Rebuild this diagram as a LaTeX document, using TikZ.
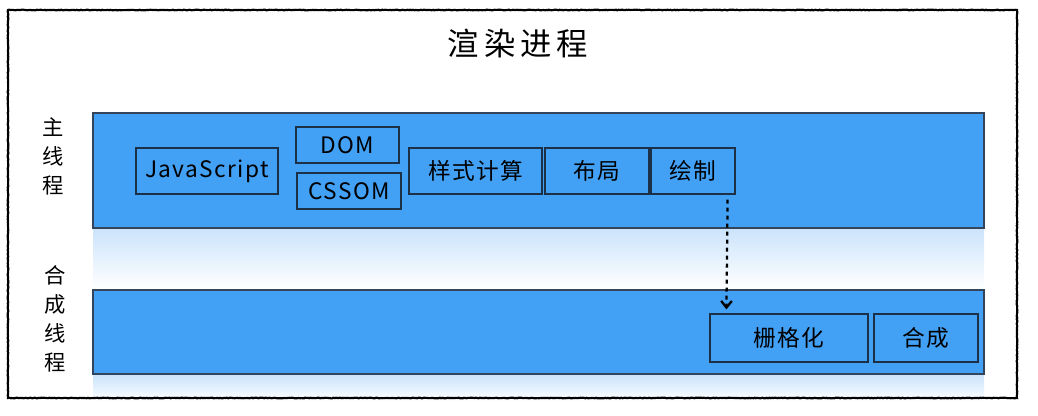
\documentclass[tikz,border=0pt]{standalone}
\usepackage{fontspec}
\setmainfont[LetterSpace=6]{Noto Sans CJK SC}
\newfontfamily\titlefont[LetterSpace=16]{Noto Sans CJK SC}
\usetikzlibrary{calc}
\usetikzlibrary{arrows.meta,decorations.pathmorphing}
\definecolor{bandblue}{RGB}{66,160,245}
\definecolor{bandline}{RGB}{52,68,90}
\definecolor{boxline}{RGB}{28,48,72}
\definecolor{shadeblue}{RGB}{204,228,251}

\begin{document}
\begin{tikzpicture}[x=0.75pt,y=-0.75pt,
  band/.style={draw=bandline,line width=0.8pt,fill=bandblue},
  glow/.style={top color=shadeblue,bottom color=white,draw=none},
  stage/.style={draw=boxline,line width=0.9pt,inner sep=0pt,font=\fontsize{17}{20}\selectfont},
  lane/.style={draw=none,fill=none,align=center,font=\fontsize{16}{21.75}\selectfont},
  rough/.style={line width=1.6pt,decorate,decoration={random steps,segment length=1pt,amplitude=0.25pt}},
  flow/.style={line width=1.7pt,dash pattern=on 3pt off 3pt,-{Straight Barb[length=5pt,width=8pt]}}]
  \useasboundingbox (0,0) rectangle (1038,415);

  % Title
  \node[draw=none,fill=none] (title) at (518,44) {\titlefont\fontsize{23.5}{28}\selectfont 渲染进程};

  % Bands and their reflections
  \fill[glow] (93,229) rectangle (984,289);
  \fill[glow] (93,375) rectangle (984,402);
  \draw[band] (93,113) rectangle (984,228);
  \draw[band] (93,290) rectangle (984,374);

  % Frame
  \draw[rough] (8,10) rectangle (1017,398);

  % Lane labels
  \node[lane] (mainlbl) at (53,156) {主\\线\\程};
  \node[lane] (complbl) at (55,319) {合\\成\\线\\程};

  % Main thread stages
  \node[stage,minimum width=106.5pt,minimum height=34.5pt] (js) at (207,171) {JavaScript};
  \node[stage,minimum width=77.25pt,minimum height=27pt] (dom) at (347.5,145) {DOM};
  \node[stage,minimum width=78pt,minimum height=27pt] (cssom) at (349,191) {CSSOM};
  \node[stage,minimum width=99.75pt,minimum height=34.5pt] (style) at (475.5,171) {样式计算};
  \node[stage,minimum width=78pt,minimum height=34.5pt] (layout) at (597,171) {布局};
  \node[stage,minimum width=63pt,minimum height=34.5pt] (paint) at (693,171) {绘制};

  % Compositor thread stages
  \node[stage,minimum width=118.5pt,minimum height=36pt] (raster) at (789,338) {栅格化};
  \node[stage,minimum width=78pt,minimum height=36pt] (comp) at (926,338) {合成};

  % Hand-over
  \draw[flow] ($(paint.south east)+(-8,5)$) -- ($(raster.north west)+(17,-4)$);

\end{tikzpicture}
\end{document}
